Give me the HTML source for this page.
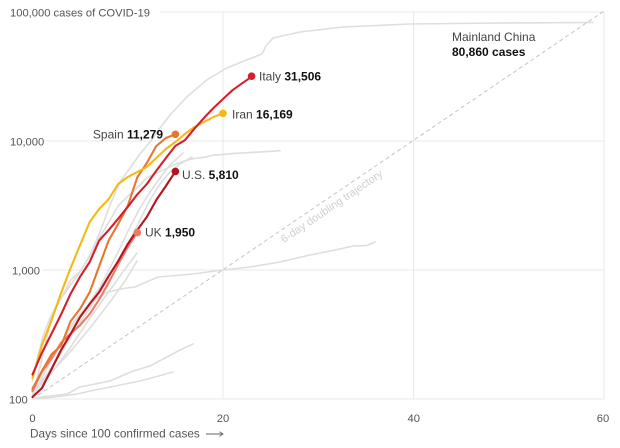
<!DOCTYPE html>
<html>
<head>
<meta charset="utf-8">
<style>
  html, body { margin:0; padding:0; background:#fff; }
  svg { display:block; }
  text { font-family: "Liberation Sans", sans-serif; }
</style>
</head>
<body>
<svg width="620" height="448" viewBox="0 0 620 448" xmlns="http://www.w3.org/2000/svg">
  <rect x="0" y="0" width="620" height="448" fill="#fff"/>

  <!-- gridlines -->
  <g stroke="#e8e8e8" stroke-width="1" fill="none">
    <line x1="160" y1="12" x2="604" y2="12"/>
    <line x1="44" y1="141" x2="604" y2="141"/>
    <line x1="43" y1="270" x2="604" y2="270"/>
    <line x1="31" y1="399" x2="604" y2="399"/>
    <line x1="223" y1="12" x2="223" y2="399"/>
    <line x1="413.7" y1="12" x2="413.7" y2="399"/>
    <line x1="604" y1="12" x2="604" y2="399"/>
  </g>

  <!-- tick labels -->
  <g fill="#555" font-size="11.2">
    <text x="10" y="16.5">100,000 cases of COVID-19</text>
    <text x="10" y="145.5">10,000</text>
    <text x="12" y="274.5">1,000</text>
    <text x="9" y="403.5">100</text>
    <text x="32.5" y="422" text-anchor="middle">0</text>
    <text x="223" y="422" text-anchor="middle">20</text>
    <text x="413.7" y="422" text-anchor="middle">40</text>
    <text x="603" y="422" text-anchor="middle">60</text>
  </g>
  <text x="30" y="437.5" fill="#555" font-size="11.8">Days since 100 confirmed cases</text>
  <g stroke="#666" stroke-width="0.9" fill="none">
    <line x1="206" y1="434" x2="223" y2="434"/>
    <polyline points="219.5,431.8 223,434 219.5,436.2"/>
  </g>

  <!-- doubling trajectory -->
  <line x1="32.5" y1="399" x2="604" y2="11" stroke="#c4c4c4" stroke-width="1" stroke-dasharray="4,3"/>
  <text transform="translate(326.7,199.1) rotate(-34.2)" x="0" y="12.5" text-anchor="middle" fill="#cfcfcf" font-size="11">6-day doubling trajectory</text>

  <!-- gray lines -->
  <g fill="none" stroke="#dedede" stroke-width="1.6" stroke-linejoin="round" stroke-linecap="round">
    <!-- China -->
    <polyline points="32.5,381 37,360 43,336 50,318 58,303 67,290 80,272 90,255 100,232 110,205 120,182 130,168 140,154 150,142 160,128 170,115 186.7,97 206.7,80 226.7,68 246.7,60 262,54 266,46 273,38 300,32 343,27 410,24 500,23 593,22.5"/>
    <!-- Korea -->
    <polyline points="32.5,396.8 42,359 51.6,316.9 61.1,298.4 70.6,280.2 80.1,271.3 89.7,257 99.2,238.1 108.7,222.5 118.2,205.7 127.8,196.2 137.3,187.8 146.8,177.8 156.3,173.3 165.9,168.8 175.4,164.3 184.9,160.7 194.4,158.5 204,157.3 213.5,155.2 223,154.4 232.5,153.6 242.1,152.9 251.6,152.4 261.1,151.9 270.6,151.3 280.2,150.7"/>
    <!-- long slow line -->
    <polyline points="32.5,396 45,372 60,345 75,320 90,303 105,293 120,289 135,287 158,277 193,274 223,270 250,267 280,262 310,255 340,249 353,246 367,245.5 375,242"/>
    <!-- low lines -->
    <polyline points="32.5,398 50,396 67,394 80,387 95,384 110,381 133,371 150,366 167,357 180,350 193,344"/>
    <polyline points="32.5,399 55,397 77,394 95,390 110,387 125,384 140,381 155,377 173,372"/>
    <!-- cluster -->
    <polyline points="32.5,388 45,366 60,345 75,322 90,302 100,287 110,268 120,248 130,227 140,208 150,192 160,178 170,165 183,153"/>
    <polyline points="32.5,392 45,377 60,355 75,330 90,308 105,285 118,262 130,240 140,220 150,200 160,184 170,172 180,164 192,157"/>
    <polyline points="32.5,394 50,375 70,348 90,318 105,297 120,276 137,253"/>
    <polyline points="32.5,390 50,374 70,352 90,328 110,302 125,281 137,261"/>
  </g>

  <!-- colored series -->
  <g fill="none" stroke-width="2.1" stroke-linejoin="round" stroke-linecap="round">
    <!-- UK -->
    <polyline stroke="#f07a63" points="32.5,391 42,371.6 51.6,358.5 61.1,342.7 70.6,333.6 80.1,325.2 89.7,313.9 99.2,299.4 108.7,282.6 118.2,264.3 127.8,247 137.3,232.6"/>
    <!-- Spain -->
    <polyline stroke="#e8762f" points="32.5,388.8 42,370.9 51.6,354.3 61.1,345.7 70.6,321.3 80.1,308.8 89.7,292.2 99.2,266.1 108.7,240.4 118.2,223.9 127.8,205.8 137.3,177.3 146.8,163 156.3,146 165.9,138 175.4,134.3"/>
    <!-- Iran -->
    <polyline stroke="#f5b915" points="32.5,378 42,345 51.6,320 61.1,293 70.6,268 80.1,245 89.7,222 99.2,209 108.7,199 118.2,184 127.8,177 137.3,172 146.8,167 156.3,158 165.9,149 175.4,142 184.9,134 194.4,127 204,122 213.5,117 223,113.3"/>
    <!-- US -->
    <polyline stroke="#b3141f" points="32.5,397 42,388 51.6,369 61.1,350 70.6,334 80.1,317 89.7,304 99.2,292 108.7,276 118.2,261 127.8,244 137.3,230 146.8,217 156.3,200 165.9,186 175.4,171.4"/>
    <!-- Italy -->
    <polyline stroke="#d51f2b" points="32.5,374.5 42,352.6 51.6,333.5 61.1,314.4 70.6,293.7 80.1,276.7 89.7,262 99.2,240.5 108.7,230.1 118.2,218.7 127.8,206.8 137.3,194.4 146.8,184.1 156.3,170.7 165.9,158 175.4,145.9 184.9,140.2 194.4,128.7 204,117.9 213.5,108 223,99 232.5,90.2 242.1,83.3 251.6,76.7"/>
  </g>

  <!-- end dots -->
  <circle cx="137.3" cy="232.6" r="3.8" fill="#f07a63"/>
  <circle cx="175.4" cy="134.3" r="3.8" fill="#e8762f"/>
  <circle cx="223" cy="113.3" r="3.8" fill="#f5b915"/>
  <circle cx="175.4" cy="171.4" r="3.8" fill="#b3141f"/>
  <circle cx="251.6" cy="76.2" r="3.8" fill="#d51f2b"/>

  <!-- series labels -->
  <g font-size="12" fill="#444">
    <text x="259" y="80.5">Italy <tspan font-weight="bold" fill="#111">31,506</tspan></text>
    <text x="232" y="118.5">Iran <tspan font-weight="bold" fill="#111">16,169</tspan></text>
    <text x="163" y="138.5" text-anchor="end">Spain <tspan font-weight="bold" fill="#111">11,279</tspan></text>
    <text x="182" y="179">U.S. <tspan font-weight="bold" fill="#111">5,810</tspan></text>
    <text x="145" y="236.5">UK <tspan font-weight="bold" fill="#111">1,950</tspan></text>
    <text x="452" y="41">Mainland China</text>
    <text x="452" y="56" font-weight="bold" fill="#111">80,860 cases</text>
  </g>
</svg>
</body>
</html>
